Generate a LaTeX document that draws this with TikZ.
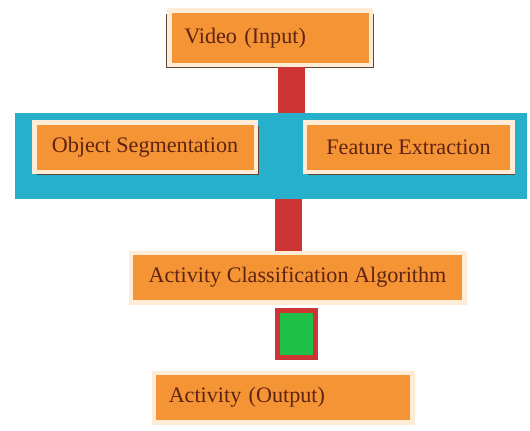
\documentclass[tikz,border=0pt]{standalone}
\usepackage{fontspec}
\setmainfont{Liberation Serif}
\usetikzlibrary{positioning,shadows}
\definecolor{boxorange}{RGB}{244,148,52}
\definecolor{boxcream}{RGB}{255,236,214}
\definecolor{shadowbrown}{RGB}{95,70,55}
\definecolor{textbrown}{RGB}{95,35,20}
\definecolor{bandcyan}{RGB}{38,176,204}
\definecolor{barred}{RGB}{205,52,52}
\definecolor{linkgreen}{RGB}{30,192,72}

\begin{document}
\begin{tikzpicture}[
    box/.style={rectangle, fill=boxorange, draw=boxcream, line width=0.09cm,
      text=textbrown, font=\fontsize{12.6}{15}\selectfont,
      inner xsep=0.3cm, minimum height=0.99cm,
      drop shadow={shadow xshift=0.06cm, shadow yshift=-0.06cm, fill=shadowbrown, opacity=1}},
    bar/.style={barred, line width=0.54cm, line cap=butt}]
  \useasboundingbox (0,0) rectangle (10.6,8.6);
  % middle band
  \node[fill=bandcyan, inner sep=0, minimum width=10.24cm, minimum height=1.72cm] (band) at (5.42,5.48) {};
  % boxes
  \node[box, align=left, text width=3.43cm, minimum height=1.09cm,
    drop shadow={shadow xshift=-0.06cm, shadow yshift=-0.06cm, fill=shadowbrown, opacity=1}] (video) at (5.40,7.84) {Video (Input)};
  \node[box, minimum width=4.43cm] (segment) at (2.90,5.65) {Object Segmentation};
  \node[box, minimum width=4.15cm] (feature) at (8.17,5.65) {Feature Extraction};
  \node[box, minimum width=6.67cm] (classify) at (5.95,3.05) {Activity Classification Algorithm};
  \node[box, align=left, text width=4.57cm] (output) at (5.66,0.65) {Activity (Output)};
  \node[fill=linkgreen, draw=barred, line width=0.1cm, minimum width=0.76cm, minimum height=0.94cm, inner sep=0,
    drop shadow={shadow xshift=-0.05cm, shadow yshift=-0.05cm, fill=shadowbrown, opacity=1}] (link) at (5.93,1.92) {};
  % connectors
  \coordinate (upx) at (5.83,0);
  \coordinate (downx) at (5.77,0);
  \draw[bar] (video.south -| upx) -- (band.north -| upx);
  \draw[bar] (band.south -| downx) -- (classify.north -| downx);
\end{tikzpicture}
\end{document}
